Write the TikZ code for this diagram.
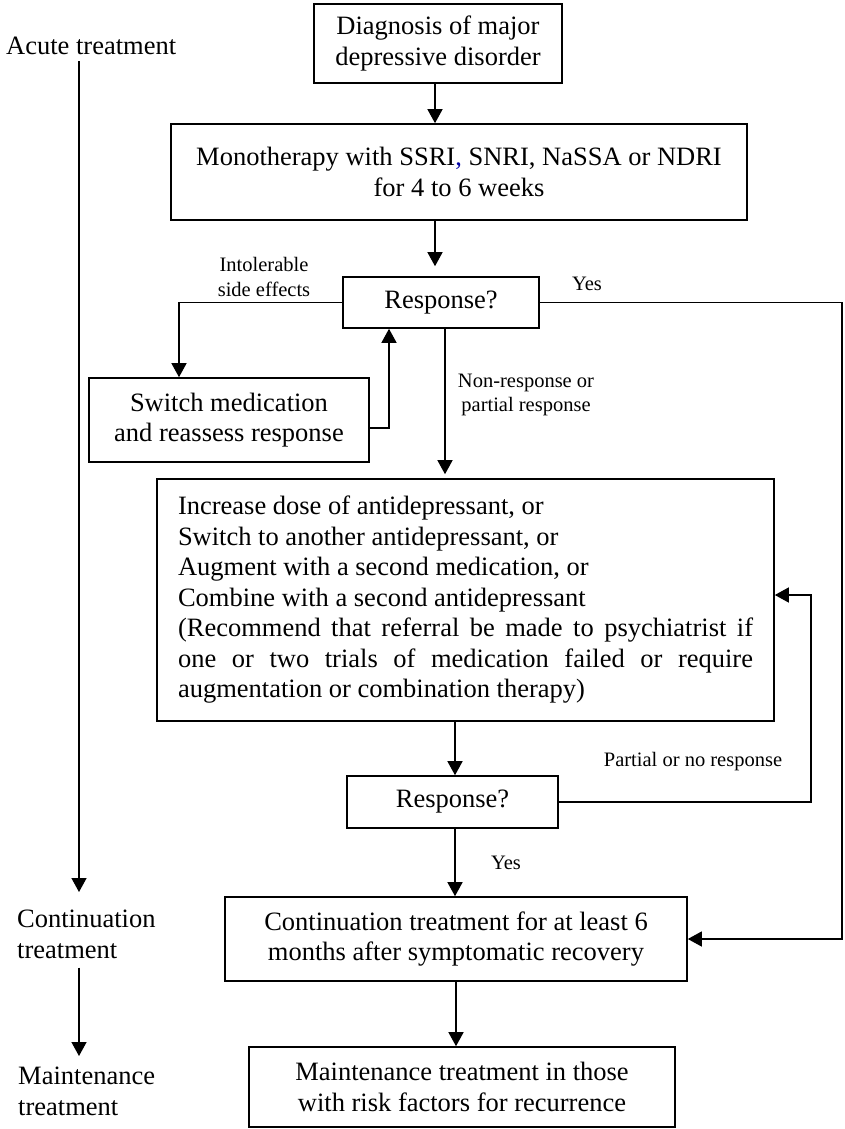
\documentclass[tikz,border=0pt]{standalone}
\usepackage{fontspec}
\setmainfont{Liberation Serif}
\usepackage{xcolor}
\usetikzlibrary{arrows.meta, positioning}

\newcommand{\flowfont}{\fontsize{26.5}{30.5}\selectfont}
\newcommand{\notefont}{\fontsize{20.5}{24.5}\selectfont}

\begin{document}
\begin{tikzpicture}[
        x=1pt, y=-1pt,
        block/.style={
            rectangle, draw=black, line width=1.6pt,
            align=center, inner sep=0pt, font=\flowfont
        },
        wideblock/.style={
            rectangle, draw=black, line width=1.6pt,
            text width=575pt, align=justify, inner sep=0pt, font=\flowfont
        },
        phaselabel/.style={inner sep=0pt, align=left, font=\flowfont},
        note/.style={inner sep=0pt, align=center, font=\notefont},
        arrow/.style={-{Triangle[length=14pt,width=15pt]}, line width=1.4pt}
    ]
    \useasboundingbox (0,0) rectangle (844,1129);

    % GUIDE LINES FOR CONNECTORS
    \coordinate (axisA) at (435,0);
    \coordinate (axisB) at (445,0);
    \coordinate (axisC) at (455,0);
    \coordinate (sideL) at (179,0);
    \coordinate (sideR) at (389,0);
    \coordinate (farR) at (842,0);
    \coordinate (tline) at (79,0);

    % PHASES
    \node[phaselabel, anchor=base west] (acute) at (6,55) {Acute treatment};
    \node[phaselabel, anchor=north west] (contlab) at (17,910) {Continuation\\treatment};
    \node[phaselabel, anchor=north west] (maintlab) at (18,1067) {Maintenance\\treatment};

    % DIAGNOSIS AND FIRST LINE
    \node[block, minimum width=248pt, minimum height=79pt] (diag) at (438,43.5) {
        Diagnosis of major\\depressive disorder
    };
    \node[block, minimum width=576pt, minimum height=96pt] (mono) at (459,172) {
        Monotherapy with SSRI\textcolor{blue!65!black}{,} SNRI, NaSSA or NDRI\\for 4 to 6 weeks
    };

    % FIRST ASSESSMENT
    \node[block, minimum width=196pt, minimum height=51pt] (resp1) at (441,302.5) {Response?};
    \node[block, minimum width=280pt, minimum height=84pt] (switch) at (229,420) {
        Switch medication\\and reassess response
    };

    % SECOND LINE
    \node[wideblock, minimum width=617pt, minimum height=242pt] (incr) at (465.5,600) {
        Increase dose of antidepressant, or\\
        Switch to another antidepressant, or\\
        Augment with a second medication, or\\
        Combine with a second antidepressant\\
        (Recommend that referral be made to psychiatrist if\linebreak
        one or two trials of medication failed or require\linebreak
        augmentation or combination therapy)
    };
    \node[block, minimum width=211pt, minimum height=52pt] (resp2) at (452.5,802) {Response?};

    % CONTINUATION AND MAINTENANCE
    \node[block, minimum width=462pt, minimum height=84pt] (cont) at (456,939) {
        Continuation treatment for at least 6\\months after symptomatic recovery
    };
    \node[block, minimum width=426pt, minimum height=80pt] (maint) at (462,1087) {
        Maintenance treatment in those\\with risk factors for recurrence
    };

    % CONNECTOR LABELS
    \node[note] (intol) at (264,277) {Intolerable\\side effects};
    \node[note] (yesA) at (587,283.5) {Yes};
    \node[note] (nonresp) at (526,395) {Non-response or\\partial response};
    \node[note] (partial) at (693,762) {Partial or no response};
    \node[note] (yesB) at (506,863) {Yes};

    % ARROWS
    \draw[arrow] (diag.south -| axisA) -- (mono.north -| axisA);
    \draw[arrow, shorten >=10pt] (mono.south -| axisA) -- (resp1.north -| axisA);
    \draw[arrow] (resp1.west) -| (switch.north -| sideL);
    \draw[arrow] ([yshift=-8pt]switch.east) -| (resp1.south -| sideR);
    \draw[arrow, shorten >=4pt] (resp1.south -| axisB) -- (incr.north -| axisB);
    \draw[arrow] (resp1.east) -| (farR |- cont.east) -- (cont.east);
    \draw[arrow] (incr.south -| axisC) -- (resp2.north -| axisC);
    \draw[arrow] (resp2.east) -| ([xshift=36pt,yshift=5pt]incr.east) -- ([yshift=5pt]incr.east);
    \draw[arrow] (resp2.south -| axisC) -- (cont.north -| axisC);
    \draw[arrow] (cont) -- (cont |- maint.north);

    % PHASE ARROWS
    \draw[arrow, shorten <=6pt, shorten >=18pt] (acute.south -| tline) -- (contlab.north -| tline);
    \draw[arrow, shorten <=9pt, shorten >=11pt] (contlab.south -| tline) -- (maintlab.north -| tline);

\end{tikzpicture}
\end{document}
